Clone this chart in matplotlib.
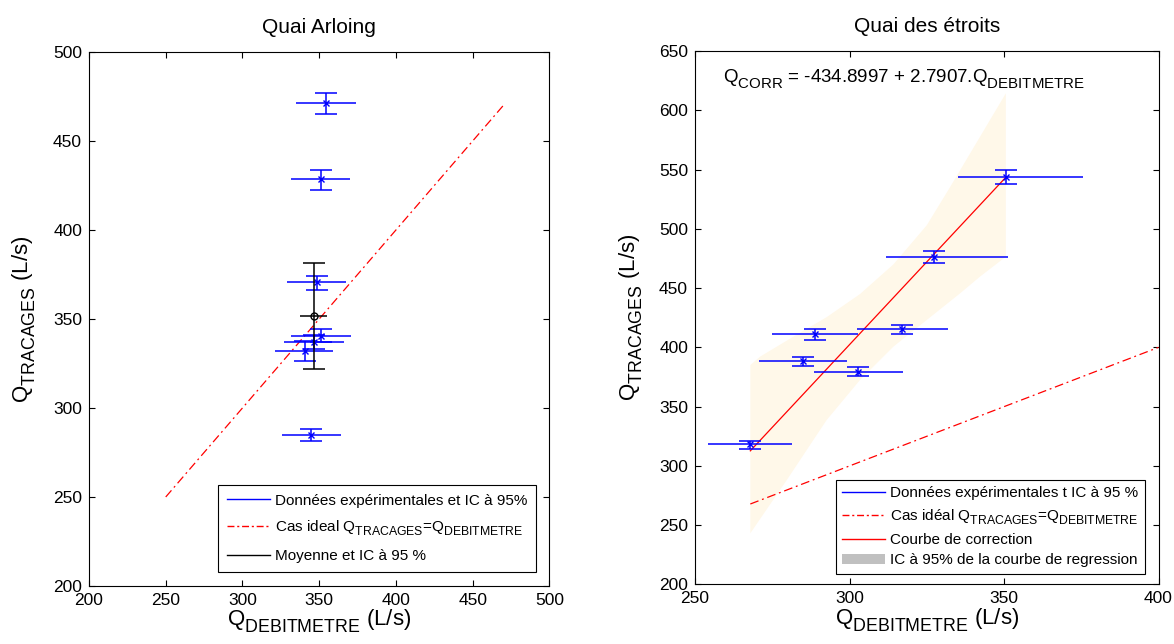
import matplotlib
matplotlib.use('Agg')
import matplotlib.pyplot as plt
import matplotlib._mathtext as mt
from matplotlib.lines import Line2D
from matplotlib.patches import Patch
import numpy as np

plt.rcParams['font.family'] = ['Liberation Sans', 'DejaVu Sans']
plt.rcParams['mathtext.fontset'] = 'custom'
plt.rcParams['mathtext.rm'] = 'Liberation Sans'
plt.rcParams['mathtext.it'] = 'Liberation Sans'
# MATLAB-like subscripts: a bit bigger and lower than mathtext default
mt.SHRINK_FACTOR = 0.8
mt.FontConstantsBase.sub1 = 0.6

# --- Quai Arloing data (L/s) ---
arl_x = np.array([354.4, 351.1, 348.3, 351.1, 346.4, 340.7, 344.6])
arl_xlo = np.array([334.7, 331.4, 328.8, 331.4, 327.2, 321.4, 325.9])
arl_xhi = np.array([373.7, 369.8, 367.2, 370.5, 365.9, 359.2, 364.0])
arl_y = np.array([471.2, 428.5, 370.6, 340.6, 337.1, 332.2, 285.0])
arl_ylo = np.array([465.2, 422.6, 366.1, 337.1, 333.0, 326.4, 281.6])
arl_yhi = np.array([476.8, 433.9, 374.3, 344.6, 341.0, 337.8, 288.4])

# mean and CI
mean_x, mean_xlo, mean_xhi = 346.4, 337.5, 354.9
mean_y, mean_ylo, mean_yhi = 351.9, 321.9, 381.6

arl_ideal = np.array([250, 470])

# --- Quai des etroits data (L/s) ---
etr_x = np.array([267.9, 285.0, 288.9, 302.8, 317.0, 327.2, 350.6])
etr_xlo = np.array([254.3, 270.8, 274.8, 288.5, 302.3, 311.7, 335.2])
etr_xhi = np.array([281.5, 299.1, 302.7, 317.4, 331.8, 351.3, 375.6])
etr_y = np.array([318.3, 388.3, 411.3, 379.5, 415.5, 476.0, 543.7])
etr_ylo = np.array([314.5, 384.3, 406.2, 375.9, 411.3, 470.9, 538.0])
etr_yhi = np.array([321.3, 391.9, 415.5, 383.2, 419.1, 481.0, 549.4])

etr_ideal = np.array([267.9, 400])

# regression line coefficients and 95% band edges
corr_a, corr_b = -434.8997, 2.7907
band_up_x = np.array([267.9, 271.0, 281.8, 292.6, 303.4, 314.2, 325.0, 332.5, 350.6])
band_up_y = np.array([385.1, 392.1, 409.0, 425.5, 445.0, 470.0, 503.0, 535.0, 614.3])
band_lo_x = np.array([267.9, 279.7, 292.6, 303.4, 314.2, 325.0, 335.8, 342.2, 350.6])
band_lo_y = np.array([243.2, 288.1, 338.7, 372.5, 400.6, 423.1, 445.6, 459.6, 476.5])

QT = r'$\mathrm{Q_{TRACAGES}}$'
QD = r'$\mathrm{Q_{DEBITMETRE}}$'

fig = plt.figure(figsize=(11.74, 6.44), dpi=100)
ax1 = fig.add_axes([0.0758, 0.0901, 0.3922, 0.8292])
ax2 = fig.add_axes([0.5920, 0.0924, 0.3948, 0.8284])


def style_axes(ax):
    ax.tick_params(direction='in', top=True, right=True, length=4, width=0.8,
                   labelsize=12.5, pad=5)
    for s in ax.spines.values():
        s.set_linewidth(0.8)


def draw_errbars(ax, x, y, xlo, xhi, ylo, yhi, color, marker):
    ax.errorbar(x, y, yerr=[y - ylo, yhi - y], fmt='none', ecolor=color,
                elinewidth=1.1, capsize=8, capthick=1.1)
    ax.errorbar(x, y, xerr=[x - xlo, xhi - x], fmt='none', ecolor=color,
                elinewidth=1.1, capsize=0)
    ax.plot(x, y, marker, color=color, ms=5, mew=1, mfc='none', ls='none')


# ---------------- Left: Quai Arloing ----------------
ax1.plot(arl_ideal, arl_ideal, color='red', lw=0.9, ls=(0, (7, 3, 1.5, 3)))
draw_errbars(ax1, arl_x, arl_y, arl_xlo, arl_xhi, arl_ylo, arl_yhi, 'blue', 'x')
draw_errbars(ax1, np.array([mean_x]), np.array([mean_y]), np.array([mean_xlo]),
             np.array([mean_xhi]), np.array([mean_ylo]), np.array([mean_yhi]),
             'black', 'o')
ax1.set_xlim(200, 500)
ax1.set_ylim(200, 500)
ax1.set_xticks(np.arange(200, 501, 50))
ax1.set_yticks(np.arange(200, 501, 50))
style_axes(ax1)
ax1.set_title('Quai Arloing', fontsize=15, pad=14)
ax1.set_xlabel(QD + ' (L/s)', fontsize=16, labelpad=0)
ax1.set_ylabel(QT + ' (L/s)', fontsize=16, labelpad=11)

h1 = [Line2D([], [], color='blue', lw=1),
      Line2D([], [], color='red', lw=1, ls=(0, (5, 2, 1.5, 2))),
      Line2D([], [], color='black', lw=1)]
l1 = ['Données expérimentales et IC à 95%',
      'Cas ideal ' + QT + '=' + QD,
      'Moyenne et IC à 95 %']
leg1 = ax1.legend(h1, l1, loc='lower right', bbox_to_anchor=(0.971, 0.026),
                  borderaxespad=0, fontsize=11, fancybox=False, framealpha=1,
                  edgecolor='black', handlelength=2.8, labelspacing=0.7,
                  borderpad=0.6, handletextpad=0.3)
leg1.get_frame().set_linewidth(0.8)

# ---------------- Right: Quai des etroits ----------------
band_px = np.concatenate([band_up_x, band_lo_x[::-1]])
band_py = np.concatenate([band_up_y, band_lo_y[::-1]])
ax2.fill(band_px, band_py, color='#FFF8E9', lw=0)
ax2.plot(etr_ideal, etr_ideal, color='red', lw=0.9, ls=(0, (7, 3, 1.5, 3)))
corr_x = np.array([etr_x.min(), etr_x.max()])
ax2.plot(corr_x, corr_a + corr_b * corr_x, color='red', lw=0.9)
draw_errbars(ax2, etr_x, etr_y, etr_xlo, etr_xhi, etr_ylo, etr_yhi, 'blue', 'x')
ax2.set_xlim(250, 400)
ax2.set_ylim(200, 650)
ax2.set_xticks(np.arange(250, 401, 50))
ax2.set_yticks(np.arange(200, 651, 50))
style_axes(ax2)
ax2.set_title('Quai des étroits', fontsize=15, pad=14)
ax2.set_xlabel(QD + ' (L/s)', fontsize=16, labelpad=0)
ax2.set_ylabel(QT + ' (L/s)', fontsize=16, labelpad=10)
ax2.text(259.1, 623.8, r'$\mathrm{Q_{CORR}}$ = -434.8997 + 2.7907.' + QD,
         fontsize=13.5, va='baseline', ha='left')

h2 = [Line2D([], [], color='blue', lw=1),
      Line2D([], [], color='red', lw=1, ls=(0, (5, 2, 1.5, 2))),
      Line2D([], [], color='red', lw=1),
      Patch(facecolor='#C0C0C0', edgecolor='none')]
l2 = ['Données expérimentales t IC à 95 %',
      'Cas idéal ' + QT + '=' + QD,
      'Courbe de correction',
      'IC à 95% de la courbe de regression']
leg2 = ax2.legend(h2, l2, loc='lower right', bbox_to_anchor=(0.971, 0.019),
                  borderaxespad=0, fontsize=11, fancybox=False, framealpha=1,
                  edgecolor='black', handlelength=2.8, labelspacing=0.42,
                  borderpad=0.45, handletextpad=0.3)
leg2.get_frame().set_linewidth(0.8)

plt.savefig('out.png', dpi=100)
print('Plot saved as out.png')
